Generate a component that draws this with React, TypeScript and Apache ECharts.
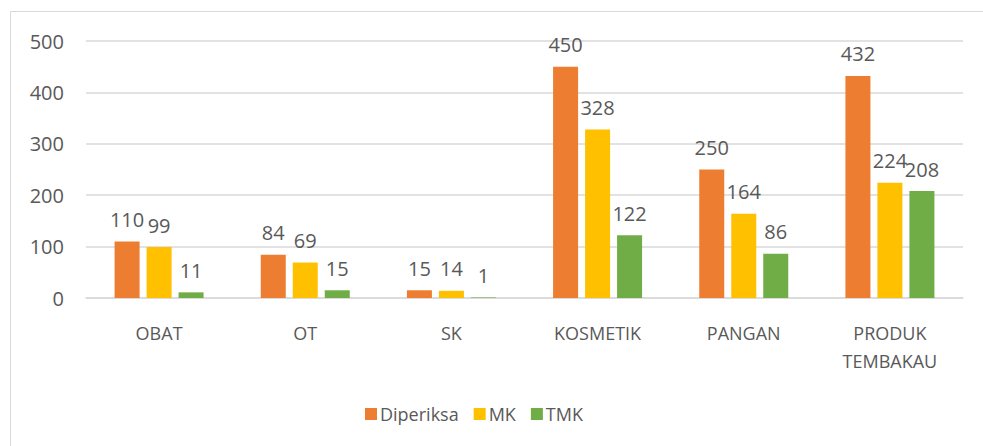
import React, { useEffect, useRef } from "react";
import * as echarts from "echarts";

const categories = ["OBAT", "OT", "SK", "KOSMETIK", "PANGAN", "PRODUK\nTEMBAKAU"];
const diperiksa = [110, 84, 15, 450, 250, 432];
const mk = [99, 69, 14, 328, 164, 224];
const tmk = [11, 15, 1, 122, 86, 208];
const yTicks = { min: 0, max: 500, interval: 100 };

const FONT = "Open Sans";
const TEXT = "#595959";

export default function App() {
  const ref = useRef<HTMLDivElement>(null);
  useEffect(() => {
    if (!ref.current) return;
    const chart = echarts.init(ref.current, null, { renderer: "svg" });
    const label = {
      show: true,
      position: "top" as const,
      distance: 12,
      color: TEXT,
      fontFamily: FONT,
      fontSize: 20,
    };
    const mkSeries = (name: string, data: number[], color: string) => ({
      name,
      type: "bar" as const,
      data,
      barWidth: 25,
      barGap: "28%",
      itemStyle: { color },
      label,
    });
    chart.setOption({
      animation: false,
      backgroundColor: "#ffffff",
      textStyle: { fontFamily: FONT },
      graphic: [
        {
          type: "rect",
          shape: { x: 10.5, y: 11.5, width: 1100, height: 1000 },
          style: { fill: "none", stroke: "#d9d9d9", lineWidth: 1 },
          silent: true,
        },
      ],
      grid: { left: 86, right: 20, top: 41, bottom: 148, containLabel: false },
      legend: {
        left: 360,
        top: 400,
        itemWidth: 12,
        itemHeight: 12,
        itemGap: 15,
        icon: "rect",
        textStyle: { color: TEXT, fontFamily: FONT, fontSize: 18, padding: [0, 0, 0, -2] },
        data: ["Diperiksa", "MK", "TMK"],
      },
      xAxis: {
        type: "category",
        data: categories,
        axisLine: { lineStyle: { color: "#d9d9d9", width: 1.5 } },
        axisTick: { show: false },
        axisLabel: {
          color: TEXT,
          fontFamily: FONT,
          fontSize: 18,
          margin: 21,
          lineHeight: 28,
          interval: 0,
        },
      },
      yAxis: {
        type: "value",
        min: yTicks.min,
        max: yTicks.max,
        interval: yTicks.interval,
        axisLine: { show: false },
        axisTick: { show: false },
        splitLine: { lineStyle: { color: "#d9d9d9", width: 1.5 } },
        axisLabel: { color: TEXT, fontFamily: FONT, fontSize: 20, margin: 22 },
      },
      series: [
        mkSeries("Diperiksa", diperiksa, "#ED7D31"),
        mkSeries("MK", mk, "#FFC000"),
        mkSeries("TMK", tmk, "#70AD47"),
      ],
    });
    return () => chart.dispose();
  }, []);
  return (
    <div
      ref={ref}
      style={{ position: "fixed", left: 0, top: 0, width: 983, height: 446 }}
    />
  );
}
